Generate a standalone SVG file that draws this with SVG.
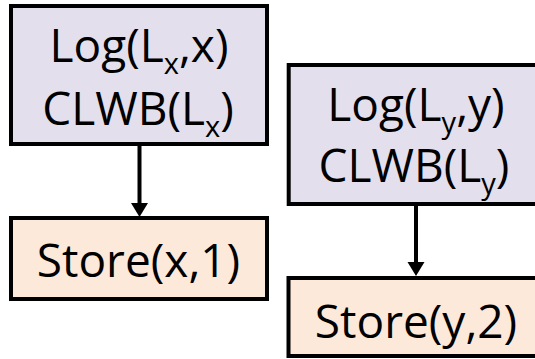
<svg xmlns="http://www.w3.org/2000/svg" width="535" height="359" viewBox="0 0 535 359">
  <style>
    .log { fill: #E4DFEC; stroke: #000; stroke-width: 4; }
    .store { fill: #FDE9D9; stroke: #000; stroke-width: 4; }
    .label { font-family: "Open Sans", "Noto Sans", sans-serif; font-size: 46px; fill: #000; text-anchor: middle; }
    .sub { font-size: 29px; }
    .wire { stroke: #000; stroke-width: 4; fill: none; }
    .head { fill: #000; }
  </style>

  <g id="connectors">
    <line class="wire" x1="139.5" y1="146" x2="139.5" y2="204"/>
    <polygon class="head" points="131,203 148,203 139.5,217"/>
    <line class="wire" x1="416" y1="205" x2="416" y2="263"/>
    <polygon class="head" points="407.5,262 424.5,262 416,276"/>
  </g>

  <g id="log-x">
    <rect class="log" x="11" y="6" width="256" height="138"/>
    <text class="label" x="139" y="62">Log(L<tspan class="sub" dy="12">x</tspan><tspan dy="-12">,x)</tspan></text>
    <text class="label" x="138" y="125">CLWB(L<tspan class="sub" dy="12">x</tspan><tspan dy="-12">)</tspan></text>
  </g>

  <g id="store-x">
    <rect class="store" x="11" y="218" width="256" height="81"/>
    <text class="label" x="138.5" y="277">Store(x,1)</text>
  </g>

  <g id="log-y">
    <rect class="log" x="288.7" y="65" width="256" height="139"/>
    <text class="label" x="416" y="121">Log(L<tspan class="sub" dy="12">y</tspan><tspan dy="-12">,y)</tspan></text>
    <text class="label" x="414" y="182">CLWB(L<tspan class="sub" dy="12">y</tspan><tspan dy="-12">)</tspan></text>
  </g>

  <g id="store-y">
    <rect class="store" x="288.5" y="278" width="256" height="78"/>
    <text class="label" x="416" y="338">Store(y,2)</text>
  </g>
</svg>
